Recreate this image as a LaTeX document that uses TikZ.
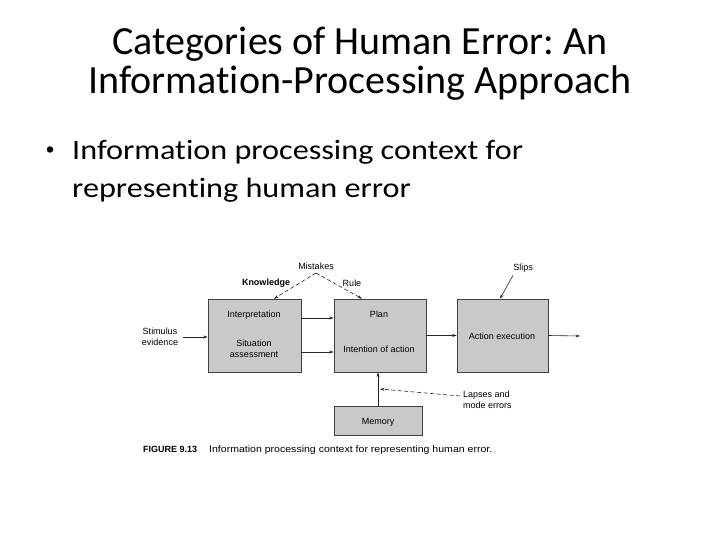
\documentclass[tikz,border=0pt]{standalone}
\usepackage{graphicx}
\usepackage{fontspec}
\setmainfont{Carlito}[Ligatures=NoCommon]
\newfontfamily\diagfont{Liberation Sans}
\usetikzlibrary{arrows.meta}
\frenchspacing
\tikzset{
  titletext/.style={anchor=base, font=\fontsize{40}{40}\selectfont, inner sep=0pt},
  bullettext/.style={anchor=base west, font=\fontsize{28}{28}\selectfont, inner sep=0pt},
  procbox/.style={draw=black!75, fill=black!21, line width=0.6pt, inner sep=0pt},
  dlabel/.style={font=\diagfont\fontsize{9}{11}\selectfont, inner sep=0pt, align=center},
  arr/.style={draw=black!85, line width=0.6pt, -{Stealth[length=4.5pt,width=3pt]}},
  darr/.style={arr, dash pattern=on 4pt off 2.5pt},
}
\begin{document}
\begin{tikzpicture}[x=1pt,y=-1pt]
\useasboundingbox[fill=white] (0,0) rectangle (720,540);

% title
\node[titletext] (t1) at (360,55) {Categories of Human Error: An};
\node[titletext] (t2) at (360,94) {Information-Processing Approach};

% bullet
\node[circle, fill=black, inner sep=0pt, minimum size=6.5pt] (bul) at (50,149.5) {};
\node[bullettext] (b1) at (72,160) {\scalebox{1.15}[1]{Information processing context for}};
\node[bullettext] (b2) at (72,197) {\scalebox{1.15}[1]{representing human error}};

% boxes
\node[procbox, minimum width=93pt, minimum height=73pt] (box1) at (254.5,335.5) {};
\node[procbox, minimum width=92pt, minimum height=73pt] (box2) at (380,335.5) {};
\node[procbox, minimum width=91pt, minimum height=73pt] (box3) at (502.5,335.5) {};
\node[procbox, minimum width=88pt, minimum height=29pt] (mem) at (378,420.5) {};

% box texts
\node[dlabel] (interp) at (254,315) {Interpretation};
\node[dlabel] (situ) at (254,349) {Situation\\assessment};
\node[dlabel] (plan) at (379,314) {Plan};
\node[dlabel] (intent) at (379,349) {Intention of action};
\node[dlabel] (act) at (502,336) {Action execution};
\node[dlabel] (memt) at (378,422) {Memory};

% outside labels
\node[dlabel] (stim) at (160,337) {Stimulus\\evidence};
\node[dlabel] (mist) at (316,266) {Mistakes};
\node[dlabel, font=\diagfont\bfseries\fontsize{9}{11}\selectfont] (know) at (266,283) {Knowledge};
\node[dlabel] (rule) at (352,283) {Rule};
\node[dlabel] (slips) at (523,268) {Slips};
\node[dlabel, anchor=west, align=left] (laps) at (463,400) {Lapses and\\mode errors};

% caption
\node[anchor=base west, inner sep=0pt, font=\diagfont\bfseries\fontsize{9}{11}\selectfont] (figno) at (143,452) {FIGURE 9.13};
\node[anchor=base west, inner sep=0pt, font=\diagfont\fontsize{9.5}{11}\selectfont] (cap) at (209,452) {\scalebox{1.11}[1]{Information processing context for representing human error.}};

% connectors
\coordinate (mk) at (316,273);
\coordinate (outend) at (580,336);
\coordinate (lapsend) at (380,389);
\draw[arr] (stim.east) ++(5,0) coordinate (stimst) -- (stimst -| box1.west);
\draw[arr] ([yshift=17.5pt]box1.east) -- ([yshift=17.5pt]box2.west);
\draw[arr] ([yshift=-16.5pt]box1.east) -- ([yshift=-16.5pt]box2.west);
\draw[arr] (box2.east) -- (box3.west);
\draw[arr] (box3.east) -- (outend);
\draw[arr] (mem.north) -- (mem.north |- box2.south);
\draw[darr] (mk) -- ([xshift=19.5pt]box1.north);
\draw[darr] (mk) -- ([xshift=-18pt]box2.north);
\draw[arr] ([shift={(-10pt,-3pt)}]slips.south) -- ([xshift=-2.5pt]box3.north);
\draw[darr] ([shift={(-3pt,4pt)}]laps.west) -- (lapsend);
\end{tikzpicture}
\end{document}
